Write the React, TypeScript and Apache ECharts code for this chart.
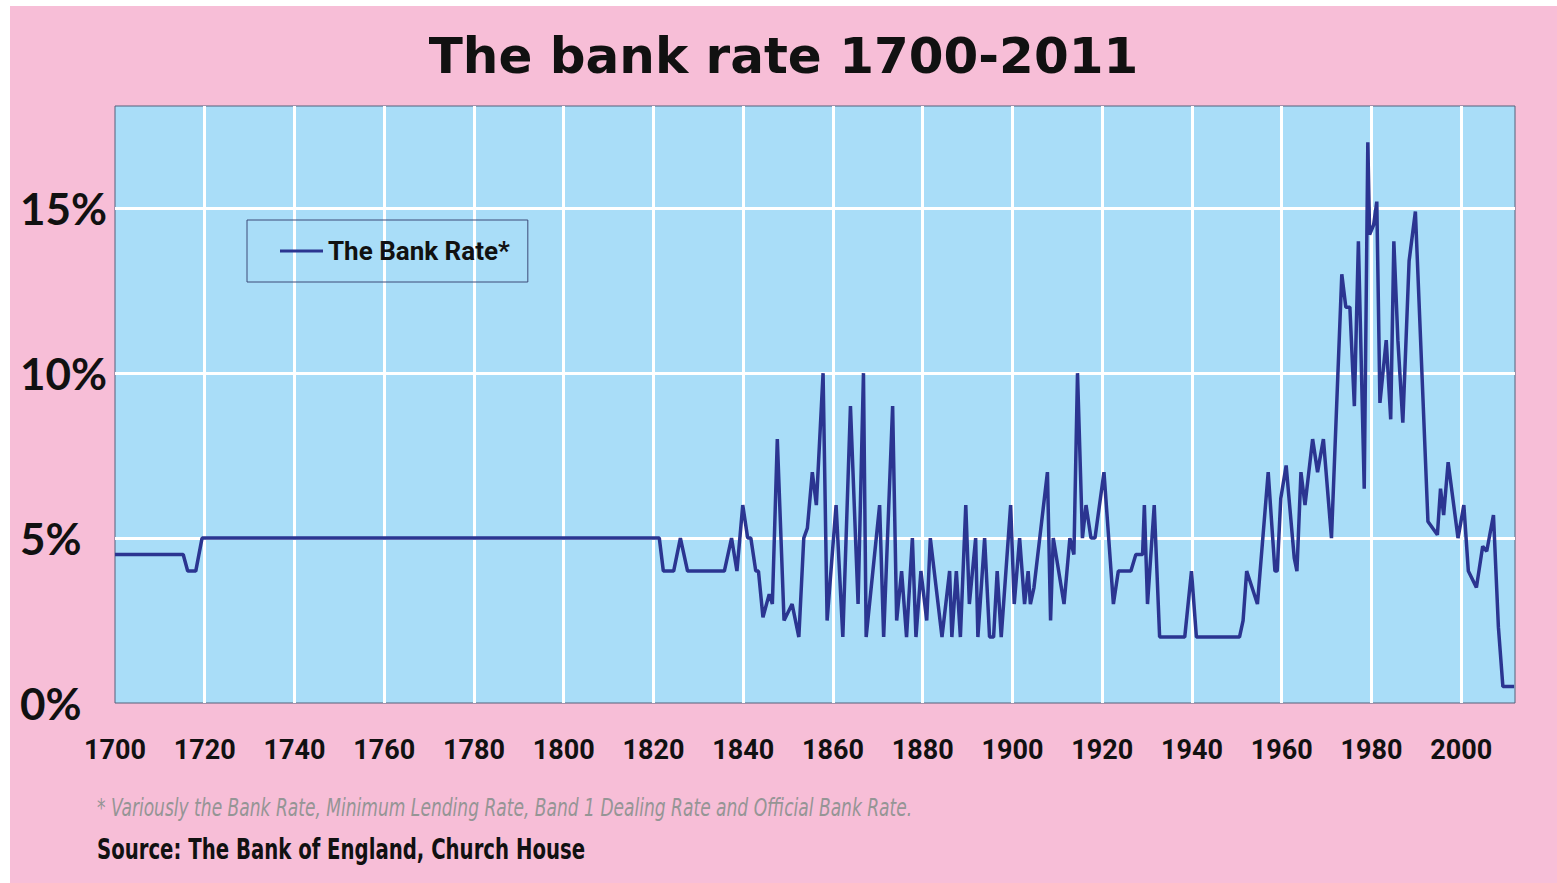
import { useEffect, useRef } from "react";
import * as echarts from "echarts";

// Bank rate turning points (year, percent)
const years = [
  1700, 1715.2, 1716.2, 1718, 1719.4, 1821.3, 1822.2, 1824.5, 1826, 1827.6,
  1835.8, 1837.4, 1838.6, 1839.9, 1841, 1841.7, 1842.8, 1843.4, 1844.4, 1845.8,
  1846.5, 1847.6, 1849.1, 1850.9, 1852.4, 1853.5, 1854.3, 1855.4, 1856.3, 1857.8,
  1858.7, 1860.7, 1862.2, 1863.9, 1865.6, 1866.8, 1867.4, 1870.4, 1871.3, 1873.3,
  1874.2, 1875.3, 1876.4, 1877.7, 1878.5, 1879.6, 1880.9, 1881.7, 1884.3, 1886,
  1886.5, 1887.5, 1888.4, 1889.6, 1890.4, 1891.8, 1892.3, 1893.8, 1894.9, 1895.8,
  1896.6, 1897.5, 1899.6, 1900.4, 1901.6, 1902.7, 1903.5, 1904, 1904.8, 1907.8,
  1908.5, 1909.1, 1911.5, 1912.8, 1913.7, 1914.5, 1915.6, 1916.4, 1917.5, 1918.4,
  1920.4, 1922.5, 1923.6, 1926.4, 1927.5, 1929, 1929.4, 1930.1, 1931.6, 1932.8,
  1938.4, 1939.9, 1941, 1950.6, 1951.4, 1952.2, 1954.6, 1957, 1958.5, 1959,
  1959.8, 1961, 1962.8, 1963.4, 1964.3, 1965.2, 1966.9, 1968, 1969.3, 1971.1,
  1973.4, 1974.3, 1975.2, 1976.2, 1977.1, 1978.4, 1979.2, 1979.6, 1980.5, 1981.2,
  1981.9, 1983.3, 1984.3, 1985, 1985.9, 1987, 1988.4, 1989.8, 1992.6, 1994.7,
  1995.4, 1996.1, 1997.1, 1999.3, 2000.6, 2001.6, 2003.4, 2004.8, 2005.7, 2007.2,
  2008.3, 2009.3, 2011.8,
];

const rates = [
  4.5, 4.5, 4, 4, 5, 5, 4, 4, 5, 4,
  4, 5, 4, 6, 5, 5, 4, 4, 2.6, 3.3,
  3, 8, 2.5, 3, 2, 5, 5.3, 7, 6, 10,
  2.5, 6, 2, 9, 3, 10, 2, 6, 2, 9,
  2.5, 4, 2, 5, 2, 4, 2.5, 5, 2, 4,
  2, 4, 2, 6, 3, 5, 2, 5, 2, 2,
  4, 2, 6, 3, 5, 3, 4, 3, 3.5, 7,
  2.5, 5, 3, 5, 4.5, 10, 5, 6, 5, 5,
  7, 3, 4, 4, 4.5, 4.5, 6, 3, 6, 2,
  2, 4, 2, 2, 2.5, 4, 3, 7, 4, 4,
  6.2, 7.2, 4.4, 4, 7, 6, 8, 7, 8, 5,
  13, 12, 12, 9, 14, 6.5, 17, 14.2, 14.5, 15.2,
  9.1, 11, 8.6, 14, 11, 8.5, 13.4, 14.9, 5.5, 5.1,
  6.5, 5.7, 7.3, 5, 6, 4, 3.5, 4.75, 4.6, 5.7,
  2.3, 0.5, 0.5,
];

const xMin = 1700;
const xMax = 2012;
const xStep = 20;
const yMin = 0;
const yMax = 18.1;
const yStep = 5;

const titleText = "The bank rate 1700-2011";
const seriesName = "The Bank Rate*";
const footnoteText =
  "* Variously the Bank Rate, Minimum Lending Rate, Band 1 Dealing Rate and Official Bank Rate.";
const sourceText = "Source: The Bank of England, Church House";

const CONDENSED = "'DejaVu Sans Condensed', 'DejaVu Sans', sans-serif";
const PINK = "#F7BED7";
const PLOT_BLUE = "#A9DDF8";
const LINE_NAVY = "#2B3591";
const FRAME = "#55607a";

export default function App() {
  const ref = useRef<HTMLDivElement>(null);

  useEffect(() => {
    document.body.style.margin = "0";
    if (!ref.current) return;
    const chart = echarts.init(ref.current, null, { renderer: "svg" });
    const points = years.map((y, i) => [y, rates[i]]);

    chart.setOption({
      animation: false,
      backgroundColor: PINK,
      title: {
        text: titleText,
        left: "center",
        top: 25,
        padding: 0,
        textStyle: {
          fontFamily: "'DejaVu Sans', sans-serif",
          fontWeight: "bold",
          fontSize: 50,
          color: "#111",
        },
      },
      legend: {
        left: 237,
        top: 214,
        orient: "horizontal",
        padding: [18, 18, 18, 33],
        borderColor: "#3d4b78",
        borderWidth: 1,
        icon: "rect",
        itemWidth: 43,
        itemHeight: 3,
        textStyle: {
          fontFamily: "Roboto, sans-serif",
          fontWeight: "bold",
          fontSize: 26,
          color: "#111",
        },
        data: [seriesName],
      },
      grid: {
        left: 105,
        top: 100,
        right: 42,
        bottom: 180,
        show: true,
        backgroundColor: PLOT_BLUE,
        borderColor: FRAME,
        borderWidth: 1,
      },
      xAxis: {
        type: "value",
        min: xMin,
        max: xMax,
        interval: xStep,
        axisLine: { show: false },
        axisTick: { show: false },
        splitLine: {
          show: true,
          showMinLine: false,
          showMaxLine: false,
          lineStyle: { color: "#ffffff", width: 3 },
        },
        axisLabel: {
          margin: 33,
          fontFamily: "Roboto, sans-serif",
          fontWeight: "bold",
          fontSize: 27,
          color: "#111",
          showMaxLabel: false,
          formatter: (v: number) => String(v),
        },
      },
      yAxis: {
        type: "value",
        min: yMin,
        max: yMax,
        interval: yStep,
        axisLine: { show: false },
        axisTick: { show: false },
        splitLine: {
          show: true,
          showMinLine: false,
          showMaxLine: false,
          lineStyle: { color: "#ffffff", width: 3 },
        },
        axisLabel: {
          align: "left",
          margin: 95,
          fontFamily: "Lato, sans-serif",
          fontWeight: "bold",
          fontSize: 44,
          color: "#111",
          showMaxLabel: false,
          formatter: (v: number) => `${v}%`,
        },
      },
      series: [
        {
          name: seriesName,
          type: "line",
          data: points,
          showSymbol: false,
          color: LINE_NAVY,
          lineStyle: { color: LINE_NAVY, width: 3.5 },
          z: 3,
        },
      ],
      graphic: [
        {
          type: "text",
          x: 87,
          y: 788,
          scaleX: 0.76,
          style: {
            text: footnoteText,
            fontFamily: CONDENSED,
            fontStyle: "italic",
            fontWeight: "normal",
            fontSize: 25,
            fill: "#959595",
          },
        },
        {
          type: "text",
          x: 87,
          y: 828,
          scaleX: 0.755,
          style: {
            text: sourceText,
            fontFamily: CONDENSED,
            fontWeight: "bold",
            fontSize: 29,
            fill: "#111",
          },
        },
      ],
    });

    return () => chart.dispose();
  }, []);

  return (
    <div style={{ position: "relative", width: 1557, height: 883, background: "#ffffff" }}>
      <div
        ref={ref}
        style={{ position: "absolute", left: 10, top: 6, width: 1547, height: 877 }}
      />
    </div>
  );
}
